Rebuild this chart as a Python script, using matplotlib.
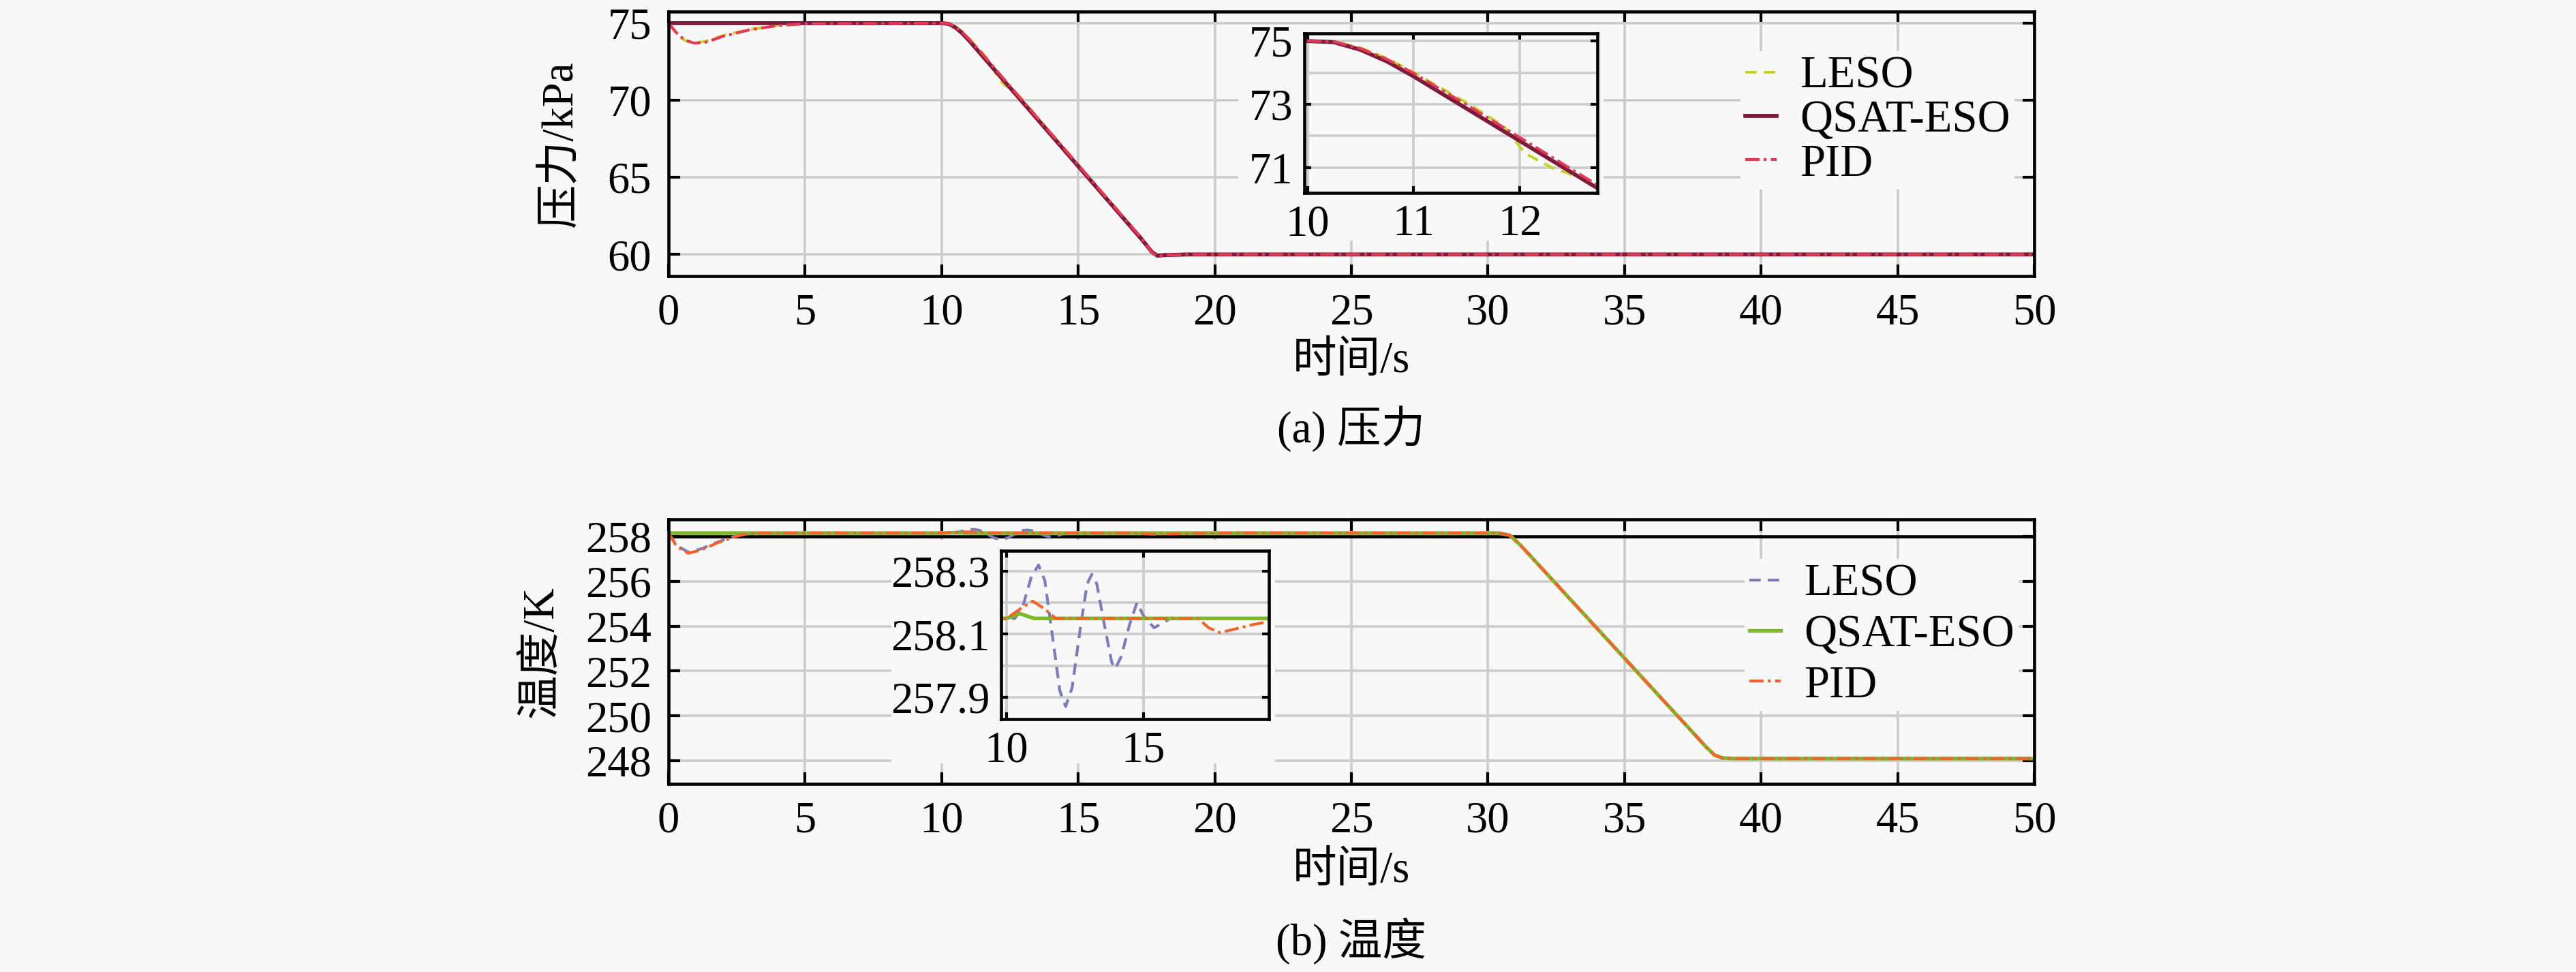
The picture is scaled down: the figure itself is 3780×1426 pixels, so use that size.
import numpy as np
import matplotlib.pyplot as plt
from matplotlib.patches import Rectangle

plt.rcParams['font.family'] = ['Liberation Serif', 'Noto Sans CJK SC']
plt.rcParams['axes.unicode_minus'] = False

# ---- (a) 压力 / kPa ----
p_t_leso = [0, 0.3, 0.6, 0.9, 1.3, 2.0, 3.0, 4.0, 5.0, 10.0, 10.25, 10.5, 10.75, 11.0, 11.5,
            11.85, 12.05, 12.3, 12.6, 12.9, 13.3, 17.3, 17.5, 17.7, 17.9, 18.2, 19.0, 50]
p_leso = [75, 74.3, 73.88, 73.72, 73.8, 74.2, 74.6, 74.85, 74.97, 75, 74.98, 74.78, 74.45, 74.0, 73.05,
          72.3, 71.45, 71.0, 70.65, 70.15, 69.3, 61.1, 60.62, 60.15, 59.9, 59.95, 60, 60]
p_t_qsat = [0, 10.0, 10.25, 10.5, 10.75, 11.0, 11.5, 12.0, 12.5, 13.0, 17.3, 17.5, 17.7, 17.9, 18.2, 19.0, 50]
p_qsat = [75, 75, 74.96, 74.72, 74.35, 73.88, 72.86, 71.84, 70.82, 69.8, 61.03, 60.6, 60.15, 59.92, 59.96, 60.0, 60.0]
p_t_pid = [0, 0.3, 0.6, 0.95, 1.4, 2.0, 3.0, 4.0, 5.0, 10.0, 10.25, 10.5, 10.75, 11.0, 11.5,
           12.0, 12.5, 13.0, 17.3, 17.5, 17.7, 17.9, 18.2, 19.0, 50]
p_pid = [75, 74.35, 73.9, 73.7, 73.78, 74.15, 74.58, 74.84, 74.96, 75, 74.98, 74.76, 74.42, 73.98, 72.98,
         71.95, 70.92, 69.9, 61.1, 60.62, 60.12, 59.88, 59.95, 60, 60]

# ---- (b) 温度 / K ----
T_ref = 258.0
T_t_leso = [0, 0.3, 0.72, 1.2, 1.8, 2.4, 2.8, 3.2, 10.3, 10.6, 10.9, 11.17, 11.4, 11.7, 11.95, 12.16,
            12.4, 12.7, 12.95, 13.12, 13.3, 13.6, 13.85, 13.98, 14.2, 14.5, 14.77, 15.0, 15.4, 16.0,
            30.4, 30.8, 31.2, 38.0, 38.3, 38.6, 39.0, 50]
T_leso = [258.15, 257.6, 257.3, 257.45, 257.75, 258.0, 258.12, 258.15, 258.15, 258.19, 258.28, 258.32,
          258.27, 258.08, 257.92, 257.87, 257.93, 258.12, 258.26, 258.29, 258.26, 258.12, 258.01, 257.99,
          258.03, 258.13, 258.2, 258.16, 258.12, 258.15,
          258.15, 258.05, 257.6, 248.6, 248.25, 248.12, 248.1, 248.1]
T_t_qsat = [0, 10.0, 10.5, 11.0, 11.5, 30.4, 30.8, 31.2, 38.0, 38.3, 38.6, 39.0, 50]
T_qsat = [258.15, 258.15, 258.165, 258.15, 258.15, 258.15, 258.05, 257.6, 248.6, 248.25, 248.12, 248.1, 248.1]
T_t_pid = [0, 0.3, 0.72, 1.2, 1.8, 2.4, 2.8, 3.2, 10.0, 10.5, 10.95, 11.4, 11.8, 17.0, 17.4, 17.8,
           18.3, 19.0, 19.6, 20.5, 30.4, 30.8, 31.2, 38.0, 38.3, 38.6, 39.0, 50]
T_pid = [258.15, 257.55, 257.25, 257.4, 257.72, 257.98, 258.1, 258.15, 258.15, 258.18, 258.205, 258.18,
         258.15, 258.15, 258.12, 258.105, 258.115, 258.13, 258.14, 258.15,
         258.15, 258.05, 257.6, 248.6, 248.25, 248.12, 248.1, 248.1]

labels = ['LESO', 'QSAT-ESO', 'PID']
x_ticks = np.arange(0, 51, 5)
p_ticks = [60, 65, 70, 75]
T_ticks = [248, 250, 252, 254, 256, 258]

bg = '#f8f8f8'
grid_c = '#cdcdcd'
W, H = 3780, 1426

fig = plt.figure(figsize=(W / 300, H / 300), dpi=300, facecolor=bg)


def px_box(x0, y0, x1, y1):
    # pixel box (top-left origin) -> figure fraction rect
    return [x0 / W, 1 - y1 / H, (x1 - x0) / W, (y1 - y0) / H]


def style_axes(ax, fs=15.5, tl=4.0, pad=6):
    ax.set_facecolor(bg)
    ax.set_axisbelow(True)
    ax.grid(True, which='both', color=grid_c, lw=0.9)
    ax.tick_params(which='both', direction='in', top=True, right=True,
                   length=tl, width=1.0, labelsize=fs, pad=pad)
    ax.tick_params(which='minor', length=0)
    for s in ax.spines.values():
        s.set_linewidth(1.1)
        s.set_color('k')


def cover(ax, box):
    r = Rectangle((box[0], box[1]), box[2], box[3], transform=fig.transFigure,
                  facecolor=bg, edgecolor='none', zorder=1.5, clip_on=False)
    ax.add_patch(r)


top_sty = [dict(color='#c8d22e', ls=(0, (4, 2.5)), lw=1.0),
           dict(color='#7d1b3c', ls='-', lw=1.4),
           dict(color='#e23a55', ls=(0, (5, 1.5, 1, 1.5)), lw=1.0)]
bot_sty = [dict(color='#7c7cb8', ls=(0, (4, 2.5)), lw=1.0),
           dict(color='#7cb82a', ls='-', lw=1.3),
           dict(color='#f2642c', ls=(0, (5, 1.5, 1, 1.5)), lw=1.0)]

# ================= (a) =================
ax1 = fig.add_axes(px_box(981, 17, 2985, 405))
style_axes(ax1)
p_series = [(p_t_leso, p_leso), (p_t_qsat, p_qsat), (p_t_pid, p_pid)]
for (t, v), st, lab in zip(p_series, top_sty, labels):
    ax1.plot(t, v, label=lab, zorder=2, **st)
ax1.set_xlim(0, 50)
ax1.set_ylim(58.6, 75.75)
ax1.set_xticks(x_ticks)
ax1.set_yticks(p_ticks)
ax1.set_ylabel('压力/kPa', fontsize=15.5)
ax1.yaxis.set_label_coords(-0.064, 0.5)
ax1.set_xlabel('时间/s', fontsize=15.5)
ax1.xaxis.set_label_coords(0.5, -0.245)
cover(ax1, px_box(1817, 47, 2353, 353))
leg1 = ax1.legend(loc='upper left', bbox_to_anchor=(0.785, 0.85), fontsize=16,
                  frameon=True, facecolor=bg, edgecolor='none', framealpha=1, fancybox=False,
                  handlelength=0.7, handletextpad=0.5, labelspacing=0.05, borderpad=0.1,
                  borderaxespad=0)

ins1 = fig.add_axes(px_box(1914, 49, 2344, 283))
ins1.set_zorder(5)
style_axes(ins1, tl=2.5, pad=4)
for (t, v), st in zip(p_series, top_sty):
    ins1.plot(t, v, **st)
ins1.set_xlim(9.97, 12.73)
ins1.set_ylim(70.2, 75.24)
ins1.set_xticks([10, 11, 12])
ins1.set_yticks([71, 73, 75])
ins1.set_yticks([72, 74], minor=True)

fig.text(1983 / W, 1 - 629 / H, '(a) 压力', fontsize=15.5, ha='center', va='center')

# ================= (b) =================
ax2 = fig.add_axes(px_box(981, 762, 2985, 1150))
style_axes(ax2)
ax2.axhline(T_ref, color='k', lw=1.1, zorder=1.8)
T_series = [(T_t_leso, T_leso), (T_t_qsat, T_qsat), (T_t_pid, T_pid)]
for (t, v), st, lab in zip(T_series, bot_sty, labels):
    ax2.plot(t, v, label=lab, zorder=2, **st)
ax2.set_xlim(0, 50)
ax2.set_ylim(246.97, 258.76)
ax2.set_xticks(x_ticks)
ax2.set_yticks(T_ticks)
ax2.set_ylabel('温度/K', fontsize=15.5)
ax2.yaxis.set_label_coords(-0.078, 0.5)
ax2.set_xlabel('时间/s', fontsize=15.5)
ax2.xaxis.set_label_coords(0.5, -0.255)
cover(ax2, px_box(1308, 792, 1871, 1120))
leg2 = ax2.legend(loc='upper left', bbox_to_anchor=(0.788, 0.85), fontsize=16,
                  frameon=True, facecolor=bg, edgecolor='none', framealpha=1, fancybox=False,
                  handlelength=0.7, handletextpad=0.5, labelspacing=0.2, borderpad=0.1,
                  borderaxespad=0)

ins2 = fig.add_axes(px_box(1469, 808, 1862, 1055))
ins2.set_zorder(5)
style_axes(ins2, tl=2.5, pad=4)
for (t, v), st in zip(T_series, bot_sty):
    ins2.plot(t, v, **st)
ins2.set_xlim(9.8, 19.6)
ins2.set_ylim(257.83, 258.365)
ins2.set_xticks([10, 15])
ins2.set_yticks([257.9, 258.1, 258.3])
ins2.set_yticks([258.0, 258.2], minor=True)
ins2.set_yticklabels(['257.9', '258.1', '258.3'])

fig.text(1983 / W, 1 - 1381 / H, '(b) 温度', fontsize=15.5, ha='center', va='center')

fig.savefig('out.png', dpi=300, facecolor=bg)
